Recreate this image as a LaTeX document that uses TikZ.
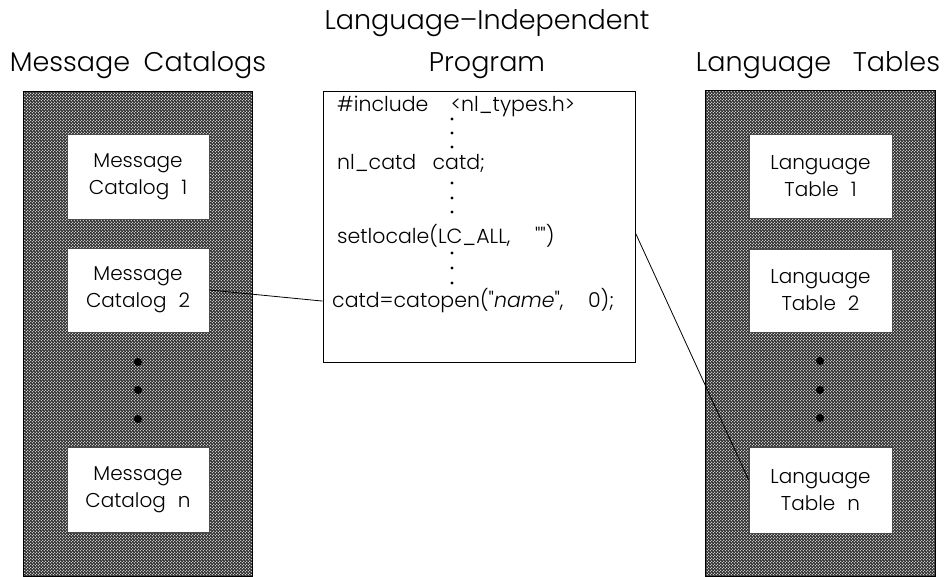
\documentclass[tikz,border=0pt]{standalone}
\usepackage{fontspec}
\setmainfont{Poppins Light}[Ligatures=TeXOff]
\usetikzlibrary{patterns,calc}

% halftone screen: white dots on a staggered 3pt grid
\pgfdeclarepatternformonly{screendots}{\pgfpoint{-0.1pt}{-0.1pt}}{\pgfpoint{3.1pt}{3.1pt}}{\pgfpoint{3pt}{3pt}}{%
  \pgfpathcircle{\pgfpoint{0.75pt}{0.75pt}}{0.72pt}%
  \pgfpathcircle{\pgfpoint{2.25pt}{2.25pt}}{0.72pt}%
  \pgfusepath{fill}}

\begin{document}
\begin{tikzpicture}[x=1pt,y=-1pt,
  panel/.style={draw, line width=0.9pt, preaction={fill=black!82},
    pattern=screendots, pattern color=white, inner sep=0pt},
  itembox/.style={draw=black!70, line width=0.6pt, fill=white, inner sep=0pt,
    minimum width=142pt, align=center,
    font=\fontsize{20}{27}\selectfont},
  progbox/.style={draw, line width=0.9pt, fill=white, inner sep=0pt},
  heading/.style={anchor=base, inner sep=0pt, font=\fontsize{27}{30}\selectfont},
  code/.style={anchor=base west, inner sep=0pt, font=\fontsize{20.5}{24}\selectfont},
  bigdot/.style={fill=black},
  link/.style={line width=0.8pt}]

\useasboundingbox (0,0) rectangle (951,577);

% column headings
\node[heading] (hprog1) at (487,30) {Language–Independent};
\node[heading] (hprog2) at (487,72) {Program};
\node[heading] (hmsg) at (138,72) {Message\hspace{0.5em}Catalogs};
\node[heading] (hlang) at (818,72) {Language\hspace{0.8em}Tables};

% shaded panels
\node[panel, minimum width=229pt, minimum height=485pt] (lp) at (137.5,333.5) {};
\node[panel, minimum width=230pt, minimum height=486pt] (rp) at (820,333) {};

% message catalogs
\node[itembox, minimum height=85pt] (m1) at (138,176.5) {Message\\Catalog\hspace{0.6em}1};
\node[itembox, minimum height=84pt] (m2) at (138,290) {Message\\Catalog\hspace{0.6em}2};
\node[itembox, minimum height=85pt] (mn) at (138,489.5) {Message\\Catalog\hspace{0.6em}n};
\foreach \yy in {362,390,419} \fill[bigdot] (138,\yy) circle (4pt);

% language tables
\node[itembox, minimum width=143pt, minimum height=84pt] (l1) at (820.5,176) {Language\\Table\hspace{0.6em}1};
\node[itembox, minimum width=143pt, minimum height=83pt] (l2) at (820.5,290.5) {Language\\Table\hspace{0.6em}2};
\node[itembox, minimum width=143pt, minimum height=86pt] (ln) at (820.5,490) {Language\\Table\hspace{0.6em}n};
\foreach \yy in {361,390,418} \fill[bigdot] (820,\yy) circle (4pt);

% program listing
\node[progbox, minimum width=312pt, minimum height=271pt] (prog) at (479,226.5) {};
\node[code] (inc) at (337,112) {\#include\hspace{1.1em}<nl\_types.h>};
\node[code] (decl) at (337,170) {nl\_catd\hspace{0.8em}catd;};
\node[code] (setl) at (337,244) {setlocale(LC\_ALL,\hspace{1.2em}"")};
\node[code] (catd) at (332,308) {catd=catopen("\textit{name}",\hspace{1.2em}0);};
\foreach \yy in {119,133,147,183,198,212,253,268,283} \fill (452,\yy) circle (1.6pt);

% connectors
\draw[link] ($(prog.east |- setl.base)+(0,-11)$) -- ($(ln.west)+(0,-10)$);
\draw[link] (m2.east) -- (prog.west |- catd.center);
\end{tikzpicture}
\end{document}
